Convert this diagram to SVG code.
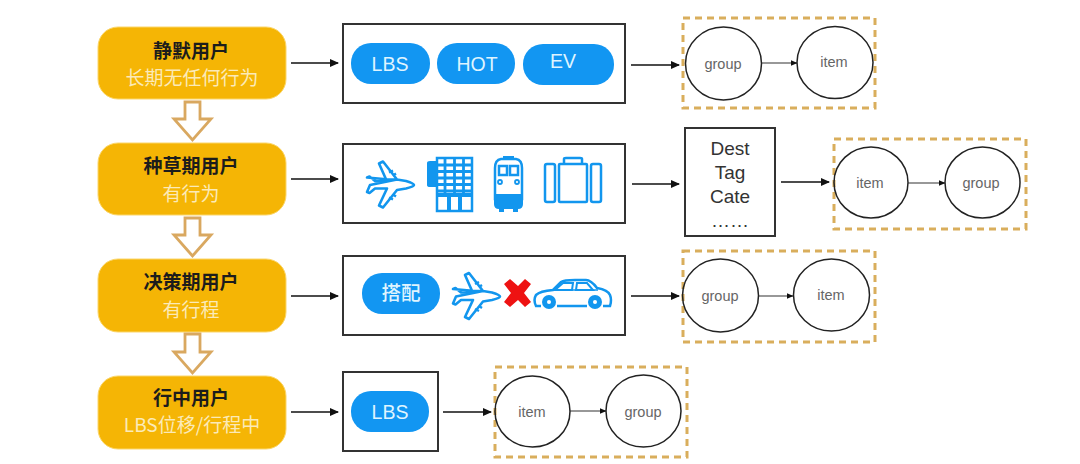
<svg xmlns="http://www.w3.org/2000/svg" width="1080" height="464" viewBox="0 0 1080 464">
<defs>
<marker id="ah" markerWidth="9" markerHeight="8" refX="8" refY="4" orient="auto" markerUnits="userSpaceOnUse"><path d="M0 0L9 4L0 8Z" fill="#111"/></marker>
<marker id="as" markerWidth="7" markerHeight="6" refX="6.500" refY="3" orient="auto" markerUnits="userSpaceOnUse"><path d="M0 0L7 3L0 6Z" fill="#111"/></marker>
<g id="plane" fill="#fff" stroke="#1296ee" stroke-width="2.600" stroke-linejoin="round">
<path d="M-23 -7L-20.500 -8L-15 -3.500L-3 -3L-11 -21L-7 -23L7 -5L-1 -5ZM7 -5L16 -3.500Q24 -1 24 0.500Q24 2 16 4L7 5.500L-7 23L-11 21L-3 4L-15 4L-20.500 8.500L-23 7.500L-20 0.500Z"/>
<path d="M-1 -12L3 -14M3 -9L6 -11M-1 13L3 15M3 10L6 12" stroke-width="2.400" fill="none"/>
</g>
</defs>
<style>
text{font-family:"Liberation Sans","Noto Sans CJK SC",sans-serif;text-anchor:middle}
.cn{font-family:"Noto Sans CJK SC","Liberation Sans",sans-serif}
.user{fill:#f5b505;stroke:#fbd66a;stroke-width:1}
.ti{font-size:19px;font-weight:700;fill:#1c1c1c}
.su{font-size:19px;fill:#fbeab8}
.box{fill:#fff;stroke:#333;stroke-width:2}
.pill{fill:#1296f2}
.pt{font-size:19.500px;fill:#dff4ff}
.dash{fill:none;stroke:#d9ae5c;stroke-width:3;stroke-dasharray:7 5}
.c{fill:none;stroke:#222;stroke-width:1.500}
.cl{font-size:14.500px;fill:#666}
.ln{fill:none;stroke:#111;stroke-width:1.500;marker-end:url(#ah)}
.ls{fill:none;stroke:#333;stroke-width:1.200;marker-end:url(#as)}
.da{fill:#fff;stroke:#d9a860;stroke-width:2.800;stroke-linejoin:miter}
.ic{fill:none;stroke:#1296ee;stroke-width:2.500}
.if{fill:#1296ee}
</style>
<rect width="1080" height="464" fill="#fff"/>

<g id="n1"><rect class="user" x="98" y="27" width="188" height="72" rx="20"/><text class="ti cn" x="191" y="58">静默用户</text><text class="su cn" x="192" y="85">长期无任何行为</text></g>
<g id="n2"><rect class="user" x="98" y="143" width="188" height="72" rx="20"/><text class="ti cn" x="191" y="173">种草期用户</text><text class="su cn" x="191" y="201">有行为</text></g>
<g id="n3"><rect class="user" x="98" y="259" width="188" height="73" rx="20"/><text class="ti cn" x="191" y="289">决策期用户</text><text class="su cn" x="191" y="317">有行程</text></g>
<g id="n4"><rect class="user" x="98" y="376" width="188" height="73" rx="20"/><text class="ti cn" x="191" y="405">行中用户</text><text class="su cn" x="192" y="432">LBS位移/行程中</text></g>

<g id="down-arrows">
<path class="da" d="M185 102H200V119H211L192.500 140L174 119H185Z"/>
<path class="da" d="M185 218H200V235H211L192.500 256L174 235H185Z"/>
<path class="da" d="M185 334H200V352H211L192.500 373L174 352H185Z"/>
</g>

<g id="b1"><rect class="box" x="343" y="24" width="282" height="79"/>
<rect class="pill" x="351" y="43" width="79" height="41" rx="20"/><text class="pt" x="390" y="71">LBS</text>
<rect class="pill" x="437" y="43" width="78" height="41" rx="20"/><text class="pt" x="477" y="71">HOT</text>
<rect class="pill" x="523" y="44" width="91" height="41" rx="20"/><text class="pt" x="563" y="68">EV</text></g>

<g id="b2"><rect class="box" x="343" y="144" width="282" height="79"/>
<use href="#plane" transform="translate(390,184.500)"/>
<g id="hotel"><path class="if" d="M427 163Q427 161 430 161H437V187H430Q427 187 427 185Z"/><rect class="ic" x="437" y="158" width="35" height="53"/><path d="M437 165H472M437 171.500H472M437 178H472M437 184.500H472M437 191H472M445 158V194M454.500 158V194M463.500 158V194" stroke="#1296ee" stroke-width="2.800" fill="none"/><path class="if" d="M437 193H472V197H437ZM447 197H451V211H447ZM458 197H462V211H458Z"/></g>
<g id="train"><path class="ic" d="M501 159H516Q522 160 522 168V199H495V168Q495 160 501 159Z"/><path class="if" d="M494 194H523V204Q523 209 518 209H499Q494 209 494 204Z"/><path class="if" d="M499 209H504V212H499ZM513 209H518V212H513ZM503 156H514V160H503Z"/><rect class="ic" x="499" y="166" width="8" height="9"/><rect class="ic" x="510" y="166" width="8" height="9"/><circle class="ic" cx="500" cy="182" r="2" style="stroke-width:1.800"/><circle class="ic" cx="517" cy="182" r="2" style="stroke-width:1.800"/></g>
<g id="case"><rect class="ic" x="545" y="164" width="10" height="38" rx="2"/><rect class="ic" x="559" y="164" width="28" height="38" rx="1"/><rect class="ic" x="591" y="164" width="10" height="38" rx="2"/><path class="ic" d="M564 164V159Q564 158 566 158H580Q582 158 582 159V164"/></g></g>

<g id="b3"><rect class="box" x="343" y="256" width="282" height="79"/>
<rect class="pill" x="362" y="273" width="78" height="41" rx="20"/><text class="pt cn" x="401" y="300" style="font-weight:500">搭配</text>
<use href="#plane" transform="translate(476,296)"/>
<path d="M504 284L510 279L518 286L525 279L531 284L524 293L531 302L525 307L518 300L510 307L504 302L511 293Z" fill="#ee1212"/>
<g id="car"><path class="ic" d="M541 306H536Q533 300 536 295Q540 291 553 290L561 282Q564 280 575 280H586Q591 280 597 288Q608 290 610 295Q612 300 610 306H603M587 306H557"/><path class="ic" d="M554 290H598" style="stroke-width:1.500"/><path class="if" d="M555 290L563 283H573L572 290ZM577 283H587L593 290H576Z" style="fill:#fff;stroke:#1296ee;stroke-width:2"/><circle class="if" cx="549" cy="302" r="7"/><circle class="if" cx="595" cy="302" r="7"/><circle cx="549" cy="302" r="2" fill="#fff"/><circle cx="595" cy="302" r="2" fill="#fff"/></g></g>

<g id="b4"><rect class="box" x="343" y="372" width="95" height="79"/>
<rect class="pill" x="351" y="391" width="78" height="41" rx="20"/><text class="pt" x="390" y="419">LBS</text></g>

<g id="dest"><rect class="box" x="685" y="128" width="90" height="108"/><g style="font-size:19px;fill:#333"><text x="730" y="155">Dest</text><text x="730" y="179">Tag</text><text x="730" y="203">Cate</text><text x="730" y="227">……</text></g></g>

<g id="g1"><rect class="dash" x="683" y="18" width="192" height="90"/><ellipse class="c" cx="723.500" cy="63.500" rx="38" ry="36.500"/><text class="cl" x="723" y="69">group</text><ellipse class="c" cx="835" cy="62.500" rx="38" ry="36"/><text class="cl" x="834" y="67">item</text></g>
<g id="g2"><rect class="dash" x="834" y="139" width="192" height="90"/><ellipse class="c" cx="871" cy="182.500" rx="37" ry="35.500"/><text class="cl" x="870" y="188">item</text><ellipse class="c" cx="982.500" cy="182.500" rx="37.500" ry="35.500"/><text class="cl" x="981" y="188">group</text></g>
<g id="g3"><rect class="dash" x="683" y="251" width="192" height="91"/><ellipse class="c" cx="720.500" cy="295.500" rx="38" ry="36.500"/><text class="cl" x="720" y="301">group</text><ellipse class="c" cx="831.500" cy="295" rx="38" ry="36"/><text class="cl" x="831" y="300">item</text></g>
<g id="g4"><rect class="dash" x="495" y="367" width="192" height="90"/><ellipse class="c" cx="532.500" cy="411.500" rx="37.500" ry="35.500"/><text class="cl" x="532" y="417">item</text><ellipse class="c" cx="643.500" cy="411" rx="37.500" ry="36"/><text class="cl" x="643" y="417">group</text></g>

<g id="connectors">
<path class="ln" d="M291 63H338"/>
<path class="ln" d="M291 179H338"/>
<path class="ln" d="M291 296H338"/>
<path class="ln" d="M291 412H338"/>
<path class="ln" d="M631 65H679"/>
<path class="ln" d="M632 184H679"/>
<path class="ln" d="M631 296H679"/>
<path class="ln" d="M443 412H491"/>
<path class="ln" d="M781 182H829"/>
<path class="ls" d="M762 63H797"/>
<path class="ls" d="M908 183H945"/>
<path class="ls" d="M759 296H793"/>
<path class="ls" d="M570 411H606"/>
</g>
</svg>
